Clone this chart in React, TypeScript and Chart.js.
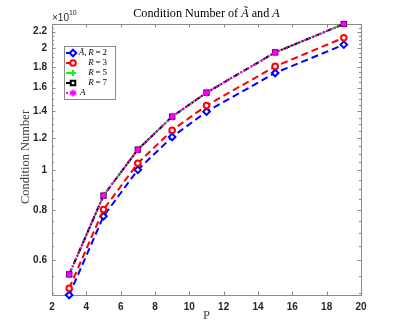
import React, { useEffect, useRef } from "react";
import { Chart, registerables } from "chart.js";
Chart.register(...registerables);

// P values (x axis)
const P = [3, 5, 7, 9, 11, 15, 19];
// Condition numbers in units of 1e10
const condR2 = [0.493, 0.771, 1.004, 1.21, 1.397, 1.74, 2.044];
const condR3 = [0.512, 0.801, 1.042, 1.257, 1.446, 1.806, 2.126];
const condR5 = [0.554, 0.867, 1.126, 1.358, 1.556, 1.955, 2.298];
const condR7 = [0.554, 0.867, 1.126, 1.358, 1.556, 1.955, 2.298];
const condA = [0.554, 0.867, 1.126, 1.358, 1.556, 1.955, 2.298];

const yMajorTicks = [0.6, 0.8, 1, 1.2, 1.4, 1.6, 1.8, 2, 2.2];
const yMinorStep = 0.05;
const xTicks = [2, 4, 6, 8, 10, 12, 14, 16, 18, 20];

const SERIF = '"Liberation Serif", "DejaVu Serif", serif';
const SANS = '"Liberation Sans", Arial, sans-serif';

function makeHexagram(color: string, r: number) {
  const s = Math.ceil(r * 2 + 2);
  const c = document.createElement("canvas");
  c.width = s;
  c.height = s;
  const ctx = c.getContext("2d")!;
  ctx.fillStyle = color;
  const cx = s / 2, cy = s / 2;
  for (let k = 0; k < 2; k++) {
    ctx.beginPath();
    for (let i = 0; i < 3; i++) {
      const a = -Math.PI / 2 + k * Math.PI + (i * 2 * Math.PI) / 3;
      const x = cx + r * Math.cos(a), y = cy + r * Math.sin(a);
      if (i === 0) ctx.moveTo(x, y);
      else ctx.lineTo(x, y);
    }
    ctx.closePath();
    ctx.fill();
  }
  return c;
}

type Seg = { t: string; it?: boolean };
function segWidth(ctx: CanvasRenderingContext2D, segs: Seg[], size: number) {
  let w = 0;
  for (const s of segs) {
    ctx.font = `${s.it ? "italic " : ""}${size}px ${SERIF}`;
    w += ctx.measureText(s.t).width;
  }
  return w;
}
function drawSegs(ctx: CanvasRenderingContext2D, segs: Seg[], x: number, y: number, size: number, color: string) {
  ctx.fillStyle = color;
  ctx.textAlign = "left";
  ctx.textBaseline = "middle";
  let cx = x;
  for (const s of segs) {
    ctx.font = `${s.it ? "italic " : ""}${size}px ${SERIF}`;
    ctx.fillText(s.t, cx, y);
    cx += ctx.measureText(s.t).width;
  }
}

function drawPointLegend(ctx: CanvasRenderingContext2D, o: any, x: number, y: number) {
  const style = o.pointStyle;
  if (style instanceof HTMLCanvasElement) {
    ctx.drawImage(style, x - style.width / 2, y - style.height / 2);
    return;
  }
  ctx.save();
  ctx.strokeStyle = o.borderColor;
  ctx.fillStyle = o.backgroundColor;
  ctx.lineWidth = o.borderWidth;
  const r = o.radius;
  ctx.beginPath();
  if (style === "circle") ctx.arc(x, y, r, 0, Math.PI * 2);
  else if (style === "rectRot") {
    ctx.moveTo(x, y - r); ctx.lineTo(x + r, y); ctx.lineTo(x, y + r); ctx.lineTo(x - r, y); ctx.closePath();
  } else if (style === "rect") {
    const h = r * 0.75;
    ctx.rect(x - h, y - h, 2 * h, 2 * h);
  } else if (style === "cross") {
    ctx.moveTo(x - r, y); ctx.lineTo(x + r, y); ctx.moveTo(x, y - r); ctx.lineTo(x, y + r);
  }
  if (style !== "cross") ctx.fill();
  ctx.stroke();
  ctx.restore();
}

export default function App() {
  const ref = useRef<HTMLCanvasElement>(null);
  useEffect(() => {
    document.body.style.margin = "0";
    const hex = makeHexagram("#ff00ff", 4.2);
    const TS = "\u2009";
    const legendLabels: { segs: Seg[]; align: "left" | "right" }[] = [
      { segs: [{ t: "Ã", it: true }, { t: "," + TS }, { t: "R", it: true }, { t: TS + "=" + TS + "2" }], align: "right" },
      { segs: [{ t: "R", it: true }, { t: TS + "=" + TS + "3" }], align: "right" },
      { segs: [{ t: "R", it: true }, { t: TS + "=" + TS + "5" }], align: "right" },
      { segs: [{ t: "R", it: true }, { t: TS + "=" + TS + "7" }], align: "right" },
      { segs: [{ t: "A", it: true }], align: "left" },
    ];

    const decor = {
      id: "decor",
      beforeDatasetsDraw(chart: any) {
        const { ctx, chartArea: a, scales } = chart;
        const xs = scales.x, ys = scales.y;
        ctx.save();
        ctx.strokeStyle = "#8a8a8a";
        ctx.lineWidth = 1;
        ctx.strokeRect(Math.round(a.left) + 0.5, Math.round(a.top) + 0.5, Math.round(a.right - a.left), Math.round(a.bottom - a.top));
        ctx.beginPath();
        for (const v of xTicks) {
          const px = Math.round(xs.getPixelForValue(v)) + 0.5;
          ctx.moveTo(px, a.bottom); ctx.lineTo(px, a.bottom - 3.5);
          ctx.moveTo(px, a.top); ctx.lineTo(px, a.top + 3.5);
        }
        for (let v = 0.5; v <= 2.31; v += yMinorStep) {
          const vv = Math.round(v * 100) / 100;
          if (vv < ys.min || vv > ys.max) continue;
          const isMajor = yMajorTicks.some((m) => Math.abs(m - vv) < 1e-6);
          const len = isMajor ? 3.5 : 2;
          const py = Math.round(ys.getPixelForValue(vv)) + 0.5;
          ctx.moveTo(a.left, py); ctx.lineTo(a.left + len, py);
          ctx.moveTo(a.right, py); ctx.lineTo(a.right - len, py);
        }
        ctx.stroke();
        ctx.restore();
      },
      afterDatasetsDraw(chart: any) {
        const { ctx, chartArea: a } = chart;
        ctx.save();
        // title
        const tsegs: Seg[] = [{ t: "Condition Number of " }, { t: "Ã", it: true }, { t: " and " }, { t: "A", it: true }];
        const tw = segWidth(ctx, tsegs, 12.2);
        drawSegs(ctx, tsegs, (a.left + a.right) / 2 - tw / 2, 14, 12.2, "#000");
        // exponent
        ctx.fillStyle = "#262626";
        ctx.textBaseline = "alphabetic";
        ctx.textAlign = "left";
        ctx.font = `10px ${SANS}`;
        ctx.fillText("×10", a.left, 21);
        const w = ctx.measureText("×10").width;
        ctx.font = `7px ${SANS}`;
        ctx.fillText("10", a.left + w, 15);
        // y label
        ctx.save();
        ctx.translate(26, 157);
        ctx.rotate(-Math.PI / 2);
        ctx.font = `12.5px ${SERIF}`;
        ctx.fillStyle = "#404040";
        ctx.textAlign = "center";
        ctx.textBaseline = "middle";
        ctx.fillText("Condition Number", 0, 0);
        ctx.restore();
        // x label
        ctx.font = `12.5px ${SERIF}`;
        ctx.fillStyle = "#404040";
        ctx.textAlign = "center";
        ctx.textBaseline = "middle";
        ctx.fillText("P", (a.left + a.right) / 2, 316);
        // legend
        const lx = 64, ly = 46, lw = 51, lh = 53;
        ctx.fillStyle = "#fff";
        ctx.fillRect(lx, ly, lw, lh);
        ctx.strokeStyle = "#8a8a8a";
        ctx.lineWidth = 1;
        ctx.strokeRect(lx + 0.5, ly + 0.5, lw, lh);
        chart.data.datasets.forEach((ds: any, i: number) => {
          const y = 53 + i * 10;
          ctx.save();
          ctx.strokeStyle = ds.borderColor;
          ctx.lineWidth = 2;
          ctx.setLineDash(ds.borderDash || []);
          ctx.beginPath();
          ctx.moveTo(66, y);
          ctx.lineTo(76, y);
          ctx.stroke();
          ctx.setLineDash([]);
          ctx.restore();
          const el = chart.getDatasetMeta(i).data[0];
          if (el) drawPointLegend(ctx, el.options, 73, y);
          const lab = legendLabels[i];
          const size = 9;
          if (lab.align === "right") {
            const wdt = segWidth(ctx, lab.segs, size);
            drawSegs(ctx, lab.segs, 107 - wdt, y, size, "#000");
          } else {
            drawSegs(ctx, lab.segs, 80, y, size, "#000");
          }
        });
        ctx.restore();
      },
    };

    const allVals = [...condR2, ...condR3, ...condR5, ...condR7, ...condA];
    const mk = (vals: number[]) => P.map((p, i) => ({ x: p, y: vals[i] }));

    const chart = new Chart(ref.current!, {
      type: "line",
      data: {
        datasets: [
          { label: "Ã, R = 2", data: mk(condR2), borderColor: "#0000ff", backgroundColor: "#ffffff", borderWidth: 2, borderDash: [7, 4], pointStyle: "rectRot", pointRadius: 3.3, pointBorderWidth: 2, order: 4, clip: false } as any,
          { label: "R = 3", data: mk(condR3), borderColor: "#ff0000", backgroundColor: "#ffffff", borderWidth: 2, borderDash: [7, 4], pointStyle: "circle", pointRadius: 2.8, pointBorderWidth: 2, order: 3, clip: false },
          { label: "R = 5", data: mk(condR5), borderColor: "#00ff00", backgroundColor: "#00ff00", borderWidth: 2, borderDash: [7, 4], pointStyle: "cross", pointRadius: 3, pointBorderWidth: 2, order: 2, clip: false },
          { label: "R = 7", data: mk(condR7), borderColor: "#000000", backgroundColor: "#ffffff", borderWidth: 2, borderDash: [6, 2, 1.5, 2], pointStyle: "rect", pointRadius: 3, pointBorderWidth: 2, order: 1, clip: false },
          { label: "A", data: mk(condA), borderColor: "#ff00ff", backgroundColor: "#ff00ff", borderWidth: 2, borderDash: [2, 2], pointStyle: hex, pointRadius: 4, pointBorderWidth: 1, order: 0, clip: false },
        ],
      },
      options: {
        responsive: false,
        animation: false,
        events: [],
        layout: { padding: { top: 24, right: 38, left: 0, bottom: 0 } },
        plugins: { legend: { display: false }, tooltip: { enabled: false }, title: { display: false } },
        scales: {
          x: {
            type: "linear",
            min: 2,
            max: 20,
            grid: { display: false, drawTicks: false },
            border: { display: false },
            afterBuildTicks: (s: any) => { s.ticks = xTicks.map((v) => ({ value: v })); },
            afterFit: (s: any) => { s.height = 37; },
            ticks: { autoSkip: false, maxRotation: 0, padding: 6, color: "#262626", font: { family: SANS, size: 10, weight: "bold" } },
          },
          y: {
            type: "logarithmic",
            min: Math.min(...allVals),
            max: Math.max(...allVals),
            grid: { display: false, drawTicks: false },
            border: { display: false },
            afterBuildTicks: (s: any) => { s.ticks = yMajorTicks.map((v) => ({ value: v })); },
            afterFit: (s: any) => { s.width = 52; },
            ticks: { autoSkip: false, padding: 5, color: "#262626", font: { family: SANS, size: 10, weight: "bold" }, callback: (v: any) => String(Number(v)) },
          },
        },
      },
      plugins: [decor],
    });
    return () => chart.destroy();
  }, []);
  return <canvas ref={ref} width={399} height={332} style={{ display: "block" }} />;
}
